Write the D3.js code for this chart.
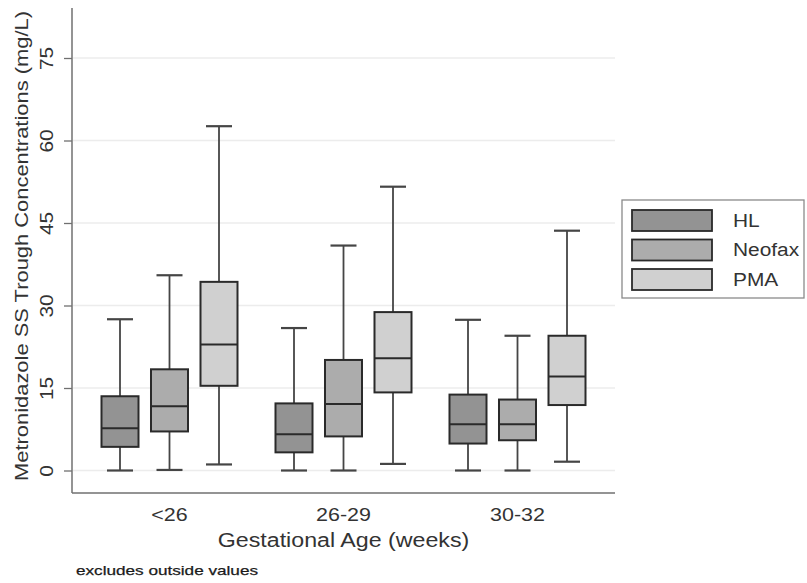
<!DOCTYPE html>
<html>
<head>
<meta charset="utf-8">
<script src="https://cdn.jsdelivr.net/npm/d3@7"></script>
<style>
  html, body { margin: 0; padding: 0; background: #fff; }
  svg { display: block; font-family: "Liberation Sans", Arial, sans-serif; }
</style>
</head>
<body>
<svg id="chart" width="807" height="583"></svg>
<script>
// Gestational-age groups and dosing methods
const groups = ["<26", "26-29", "30-32"];
const series = ["HL", "Neofax", "PMA"];

// Box-plot statistics per method (one value per age group), mg/L
const lowerWhisker = { HL: [0, 0, 0],        Neofax: [0.1, 0, 0],      PMA: [1.1, 1.2, 1.6] };
const q1           = { HL: [4.3, 3.3, 4.9],  Neofax: [7.1, 6.2, 5.5],  PMA: [15.4, 14.2, 11.9] };
const median       = { HL: [7.7, 6.6, 8.4],  Neofax: [11.7, 12.1, 8.4], PMA: [22.9, 20.4, 17.1] };
const q3           = { HL: [13.5, 12.2, 13.8], Neofax: [18.4, 20.1, 12.9], PMA: [34.3, 28.8, 24.5] };
const upperWhisker = { HL: [27.5, 25.9, 27.4], Neofax: [35.5, 40.9, 24.5], PMA: [62.6, 51.6, 43.6] };

const yTicks = [0, 15, 30, 45, 60, 75];
const fills = { HL: "#939393", Neofax: "#acacac", PMA: "#d0d0d0" };

const svg = d3.select("#chart");

// Stata-style lettering is a little wider than Liberation Sans: stretch text along its baseline
const WIDEN = 1.16;
function widen(sel, k = WIDEN) {
  sel.each(function () {
    const n = this.getComputedTextLength();
    d3.select(this).attr("textLength", n * k).attr("lengthAdjust", "spacingAndGlyphs");
  });
}

const axisX = 72, axisTop = 8, axisBottom = 493, plotRight = 615;

const y = d3.scaleLinear().domain([0, 75]).range([470.5, 58]);
const x = d3.scaleBand().domain(groups).range([82.5, 604.5]).padding(0);
const xi = d3.scaleBand().domain(series).range([12.75, 161.25])
  .paddingInner(0.2525).paddingOuter(0.12625);

// grid lines
svg.append("g").selectAll("line").data(yTicks).join("line")
  .attr("x1", axisX + 1).attr("x2", plotRight)
  .attr("y1", d => y(d)).attr("y2", d => y(d))
  .attr("stroke", "#ececec").attr("stroke-width", 1.5);

// y axis with rotated tick labels
const yAxis = svg.append("g").attr("transform", `translate(${axisX},0)`)
  .call(d3.axisLeft(y).tickValues(yTicks).tickSize(8).tickPadding(0));
yAxis.select(".domain").remove();
yAxis.selectAll(".tick line").attr("stroke", "#707070").attr("stroke-width", 1.3);
yAxis.selectAll(".tick text")
  .attr("x", null).attr("dy", null)
  .attr("transform", "translate(-25.5,0) rotate(-90)")
  .attr("text-anchor", "middle").attr("dominant-baseline", "central")
  .attr("font-size", 18).attr("fill", "#333")
  .call(widen);

// axis frame lines
svg.append("line").attr("x1", axisX).attr("x2", axisX).attr("y1", axisTop).attr("y2", axisBottom)
  .attr("stroke", "#707070").attr("stroke-width", 1.5);
svg.append("line").attr("x1", axisX).attr("x2", plotRight).attr("y1", axisBottom).attr("y2", axisBottom)
  .attr("stroke", "#707070").attr("stroke-width", 1.5);

// x axis group labels
const xAxis = svg.append("g").attr("transform", `translate(0,${axisBottom})`)
  .call(d3.axisBottom(x).tickSize(0).tickPadding(0));
xAxis.select(".domain").remove();
xAxis.selectAll(".tick text")
  .attr("y", 22).attr("dy", "0.35em")
  .attr("font-size", 18.5).attr("fill", "#333")
  .call(widen);

// boxes
const boxes = [];
series.forEach(s => groups.forEach((g, i) => boxes.push({
  s, g, lw: lowerWhisker[s][i], q1: q1[s][i], med: median[s][i], q3: q3[s][i], uw: upperWhisker[s][i]
})));

const bw = xi.bandwidth();
const capW = 26;
const bg = svg.append("g").selectAll("g").data(boxes).join("g")
  .attr("transform", d => `translate(${x(d.g) + xi(d.s)},0)`);

// whiskers
bg.append("line").attr("x1", bw / 2).attr("x2", bw / 2)
  .attr("y1", d => y(d.q3)).attr("y2", d => y(d.uw))
  .attr("stroke", "#454545").attr("stroke-width", 1.8);
bg.append("line").attr("x1", bw / 2).attr("x2", bw / 2)
  .attr("y1", d => y(d.q1)).attr("y2", d => y(d.lw))
  .attr("stroke", "#454545").attr("stroke-width", 1.8);
bg.append("line").attr("x1", bw / 2 - capW / 2).attr("x2", bw / 2 + capW / 2)
  .attr("y1", d => y(d.uw)).attr("y2", d => y(d.uw))
  .attr("stroke", "#454545").attr("stroke-width", 2.2);
bg.append("line").attr("x1", bw / 2 - capW / 2).attr("x2", bw / 2 + capW / 2)
  .attr("y1", d => y(d.lw)).attr("y2", d => y(d.lw))
  .attr("stroke", "#454545").attr("stroke-width", 2.2);

// box body
bg.append("rect").attr("x", 0).attr("width", bw)
  .attr("y", d => y(d.q3)).attr("height", d => y(d.q1) - y(d.q3))
  .attr("fill", d => fills[d.s]).attr("stroke", "#2a2a2a").attr("stroke-width", 2);
bg.append("line").attr("x1", 0).attr("x2", bw)
  .attr("y1", d => y(d.med)).attr("y2", d => y(d.med))
  .attr("stroke", "#2a2a2a").attr("stroke-width", 2);

// axis titles
svg.append("text")
  .attr("transform", `translate(22,246) rotate(-90)`)
  .attr("text-anchor", "middle").attr("dominant-baseline", "central")
  .attr("font-size", 18).attr("fill", "#333")
  .attr("textLength", 470).attr("lengthAdjust", "spacingAndGlyphs")
  .text("Metronidazole SS Trough Concentrations (mg/L)");

svg.append("text")
  .attr("x", x("26-29") + x.bandwidth() / 2).attr("y", 540).attr("dy", "0.35em")
  .attr("text-anchor", "middle").attr("font-size", 20).attr("fill", "#333")
  .text("Gestational Age (weeks)")
  .call(widen);

svg.append("text")
  .attr("x", 76).attr("y", 570).attr("dy", "0.35em")
  .attr("font-size", 13.5).attr("fill", "#1a1a1a").attr("stroke", "#1a1a1a").attr("stroke-width", 0.25)
  .text("excludes outside values")
  .attr("textLength", 182).attr("lengthAdjust", "spacingAndGlyphs");

// legend
const lg = svg.append("g");
lg.append("rect").attr("x", 622).attr("y", 200).attr("width", 182).attr("height", 98)
  .attr("fill", "#fff").attr("stroke", "#8a8a8a").attr("stroke-width", 1.3);
const rows = lg.selectAll("g.row").data(series).join("g").attr("class", "row")
  .attr("transform", (d, i) => `translate(0,${210 + i * 29.5})`);
rows.append("rect").attr("x", 632).attr("y", 0).attr("width", 80).attr("height", 21)
  .attr("fill", d => fills[d]).attr("stroke", "#2a2a2a").attr("stroke-width", 1.8);
rows.append("text").attr("x", 733).attr("y", 10.5).attr("dy", "0.35em")
  .attr("font-size", 18).attr("fill", "#333").text(d => d)
  .call(widen);
</script>
</body>
</html>
